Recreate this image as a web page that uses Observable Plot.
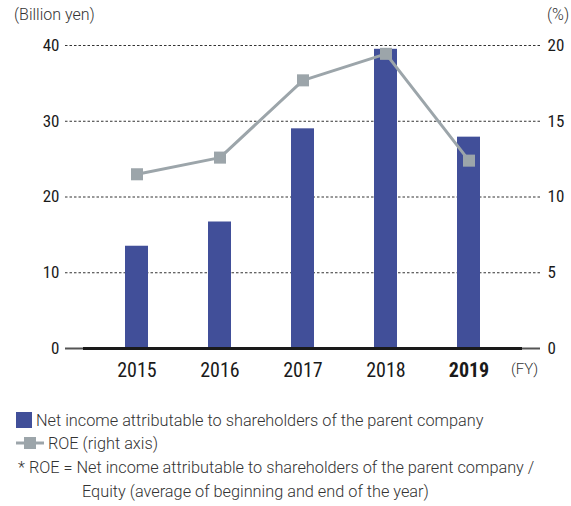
<!DOCTYPE html>
<html>
<head>
<meta charset="utf-8">
<script src="https://cdn.jsdelivr.net/npm/d3@7"></script>
<script src="https://cdn.jsdelivr.net/npm/@observablehq/plot@0.6"></script>
<style>
  body { margin: 0; background: #fff; }
  #wrap { position: relative; width: 571px; height: 506px; font-family: Roboto, "Liberation Sans", sans-serif; color: #333; }
  .ann { position: absolute; font-weight: 300; font-size: 16px; color: #333; white-space: nowrap; }
  .leg { position: absolute; font-weight: 300; font-size: 16.3px; color: #333; white-space: nowrap; }
  #chart { position: absolute; left: 0; top: 0; }
</style>
</head>
<body>
<div id="wrap">
  <div id="chart"></div>
  <div class="ann" style="left:14px; top:5px;">(Billion yen)</div>
  <div class="ann" style="left:547px; top:5px;">(%)</div>
  <div class="ann" style="left:511px; top:360px; font-size:15px;">(FY)</div>
  <div class="leg" style="left:16px; top:411px;"><span style="display:inline-block;width:16px;height:16px;background:#414f99;vertical-align:-2px;margin-right:4px;"></span>Net income attributable to shareholders of the parent company</div>
  <div class="leg" style="left:16px; top:434px;"><svg width="30" height="14" style="vertical-align:-1px;margin-right:2px;"><line x1="0" x2="28" y1="7" y2="7" stroke="#9ca5aa" stroke-width="3"/><rect x="8" y="1" width="12" height="12" fill="#9ca5aa"/></svg>ROE (right axis)</div>
  <div class="leg" style="left:18px; top:458px;">* ROE = Net income attributable to shareholders of the parent company /</div>
  <div class="leg" style="left:82px; top:482px;">Equity (average of beginning and end of the year)</div>
</div>
<script>
const years = ["2015", "2016", "2017", "2018", "2019"];
const netIncome = [13.5, 16.7, 29.0, 39.5, 27.9];
const roe = [11.5, 12.6, 17.7, 19.45, 12.4];
const leftTicks = [0, 10, 20, 30, 40];
const rightTickLabels = [0, 5, 10, 15, 20];

const data = years.map((y, i) => ({year: y, ni: netIncome[i], roe: roe[i]}));

const tickFont = "'Liberation Sans Narrow', 'Roboto Condensed', Roboto, sans-serif";

const plot = Plot.plot({
  width: 571,
  height: 395,
  marginTop: 45,
  marginBottom: 47,
  marginLeft: 83,
  marginRight: 49,
  style: {fontFamily: tickFont, fontSize: "17px", color: "#1a1a1a", overflow: "visible"},
  x: {domain: years, paddingInner: 0.724, paddingOuter: 0.497, axis: null, label: null},
  y: {domain: [0, 40], axis: null, label: null},
  marks: [
    Plot.ruleY(leftTicks.filter(d => d > 0), {stroke: "#333", strokeWidth: 1, strokeDasharray: "2.5,2", insetLeft: -18, insetRight: -18}),
    Plot.ruleY([0], {stroke: "#555", strokeWidth: 2, insetLeft: -18, insetRight: -18}),
    Plot.barY(data, {x: "year", y: "ni", fill: "#414f99"}),
    Plot.ruleY([0], {stroke: "#1a1a1a", strokeWidth: 3}),
    Plot.lineY(data, {x: "year", y: d => d.roe * 2, stroke: "#9ca5aa", strokeWidth: 3}),
    Plot.dot(data, {x: "year", y: d => d.roe * 2, symbol: "square", r: 6.8, fill: "#9ca5aa", stroke: "none"}),
    Plot.axisY({anchor: "left", ticks: leftTicks, label: null, tickSize: 0, tickPadding: 24, fontSize: 17}),
    Plot.axisY({anchor: "right", ticks: leftTicks, label: null, tickFormat: (d, i) => String(rightTickLabels[i]), tickSize: 0, tickPadding: 25, fontSize: 17}),
    Plot.axisX({ticks: years, label: null, tickSize: 0, tickPadding: 14, fontSize: 20})
  ]
});
document.getElementById("chart").appendChild(plot);
d3.select(plot).selectAll("text").filter(function() { return this.textContent === "2019"; }).attr("font-weight", "bold");
</script>
</body>
</html>
